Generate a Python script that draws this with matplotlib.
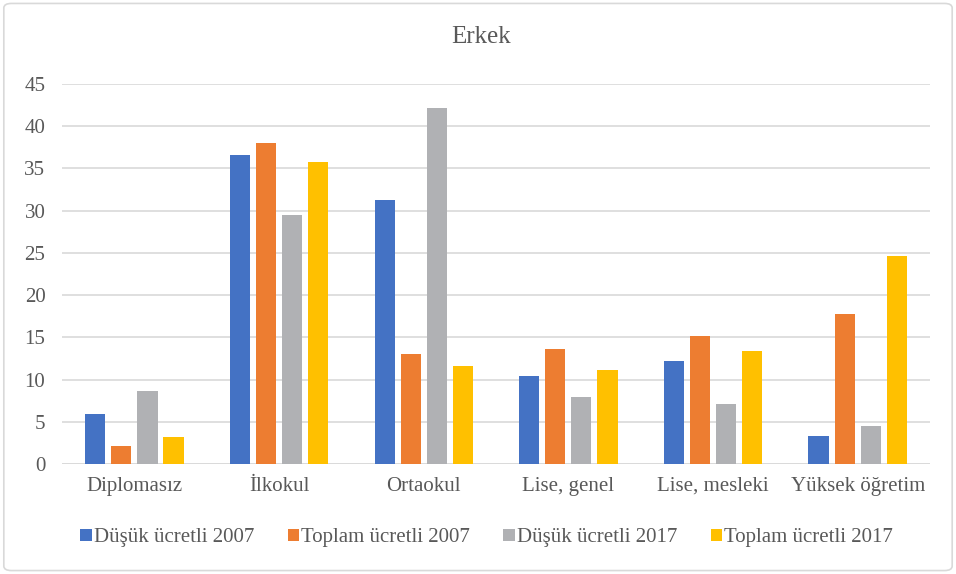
import numpy as np
import matplotlib.pyplot as plt
from matplotlib.patches import FancyBboxPatch

plt.rcParams['font.family'] = ['Liberation Serif', 'DejaVu Serif']

# kategoriler ve seriler
categories = ["Diplomasız", "İlkokul", "Ortaokul", "Lise, genel", "Lise, mesleki", "Yüksek öğretim"]
series_names = ["Düşük ücretli 2007", "Toplam ücretli 2007", "Düşük ücretli 2017", "Toplam ücretli 2017"]
dusuk_2007 = [5.95, 36.6, 31.3, 10.45, 12.15, 3.27]
toplam_2007 = [2.15, 38.0, 12.97, 13.63, 15.14, 17.82]
dusuk_2017 = [8.6, 29.5, 42.1, 7.92, 7.06, 4.45]
toplam_2017 = [3.15, 35.8, 11.6, 11.1, 13.33, 24.63]
colors = ["#4472C4", "#ED7D31", "#B0B1B4", "#FFC000"]
yticks = list(range(0, 50, 5))

text_color = "#595959"
grid_color = "#d9d9d9"

fig = plt.figure(figsize=(9.56, 5.74), dpi=100)
ax = fig.add_axes([0.0649, 0.1916, 0.9079, 0.6621])

x = np.arange(len(categories))
step = 0.18
width = 0.14
all_series = [dusuk_2007, toplam_2007, dusuk_2017, toplam_2017]
for i, (vals, name, c) in enumerate(zip(all_series, series_names, colors)):
    ax.bar(x + (i - 1.5) * step, vals, width, color=c, label=name, zorder=3)

ax.set_xlim(-0.5, len(categories) - 0.5)
ax.set_ylim(0, 45)
ax.set_yticks(yticks)
ax.set_xticks(x)
ax.set_xticklabels(categories)
ax.tick_params(axis='both', length=0, labelsize=15, colors=text_color)
ax.tick_params(axis='y', pad=12)
ax.tick_params(axis='x', pad=9)
ax.yaxis.grid(True, color=grid_color, linewidth=1.2, zorder=0)
for s in ax.spines.values():
    s.set_visible(False)
ax.axhline(0, color=grid_color, linewidth=1.2, zorder=2)

fig.text(0.503, 0.935, "Erkek", ha='center', va='center', fontsize=18, color=text_color)

handles, labels = ax.get_legend_handles_labels()
leg = fig.legend(handles, labels, loc='center', bbox_to_anchor=(0.509, 0.063), ncol=4,
                 frameon=False, fontsize=15, handlelength=0.55, handleheight=0.55,
                 handletextpad=0.1, columnspacing=1.6)
for t in leg.get_texts():
    t.set_color(text_color)

border = FancyBboxPatch((0.004, 0.006), 0.992, 0.988, boxstyle="round,pad=0,rounding_size=0.008",
                        transform=fig.transFigure, facecolor='none', edgecolor=grid_color,
                        linewidth=1.2)
fig.patches.append(border)

plt.savefig("out.png", dpi=100)
